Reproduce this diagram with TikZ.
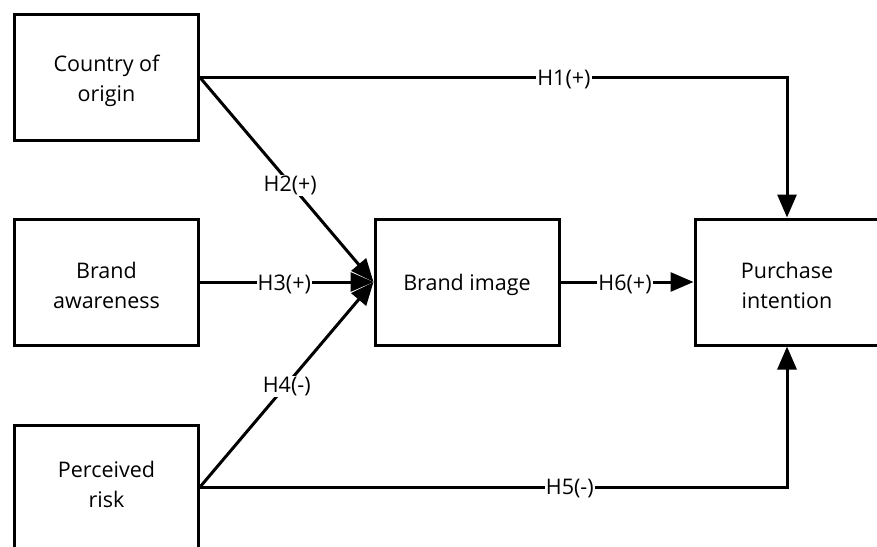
\documentclass[tikz,border=0pt]{standalone}
\usepackage{fontspec}
\setmainfont{Open Sans}
\usetikzlibrary{arrows.meta}
\begin{document}
\begin{tikzpicture}[x=1pt,y=-1pt,
  box/.style={draw,line width=3pt,minimum width=184pt,minimum height=126pt,inner sep=0pt},
  boxtext/.style={align=center,font=\fontsize{21.5}{30}\selectfont,inner sep=0pt,yshift=-3pt},
  conn/.style={line width=3pt,-{Triangle[length=23pt,width=19pt]}},
  lab/.style={fill=white,inner sep=1pt,font=\fontsize{21.5}{26}\selectfont,yshift=-2pt}]
\useasboundingbox (0,0) rectangle (877,546);
\node[box,label={[boxtext]center:Country of\\origin}] (coo) at (106.5,77.5) {};
\node[box,label={[boxtext]center:Brand\\awareness}] (ba) at (106.5,282) {};
\node[box,anchor=north] (pr) at (106.5,424) {};
\node[boxtext] (prt) at (106.5,481) {Perceived\\risk};
\node[box,label={[boxtext]center:Brand image}] (bi) at (467,282) {};
\node[box,label={[boxtext]center:Purchase\\intention}] (pi) at (787,282) {};
\coordinate (prout) at (200,487);
\draw[conn] (coo.east) -| node[lab,pos=0.31]{H1(+)} (pi.north);
\draw[conn] (coo.east) -- node[lab,pos=0.52]{H2(+)} (bi.west);
\draw[conn] (ba.east) -- node[lab,pos=0.486]{H3(+)} (bi.west);
\draw[conn] (prout) -- node[lab,pos=0.5]{H4(-)} (bi.west);
\draw[conn] (prout) -| node[lab,pos=0.315]{H5(-)} (pi.south);
\draw[conn] (bi.east) -- node[lab,pos=0.485]{H6(+)} (pi.west);
\end{tikzpicture}
\end{document}
